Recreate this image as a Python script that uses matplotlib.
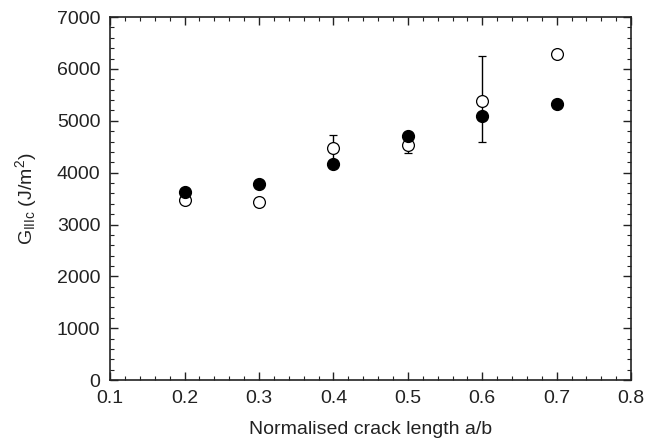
import matplotlib
matplotlib.use('Agg')
import matplotlib.pyplot as plt
from matplotlib.ticker import MultipleLocator

plt.rcParams['font.family'] = ['Liberation Sans', 'DejaVu Sans']
plt.rcParams['mathtext.fontset'] = 'custom'
plt.rcParams['mathtext.rm'] = 'Liberation Sans'
plt.rcParams['mathtext.it'] = 'Liberation Sans:italic'

# crack length ratio
crack_ratio = [0.2, 0.3, 0.4, 0.5, 0.6, 0.7]

# filled circles
g_filled = [3630, 3790, 4165, 4700, 5095, 5320]

# open circles with error bars
g_open = [3470, 3440, 4480, 4530, 5380, 6295]
err_low = [60, 80, 230, 160, 790, 20]
err_high = [60, 80, 240, 160, 870, 20]

fig = plt.figure(figsize=(6.48, 4.42), dpi=100)
ax = fig.add_axes([0.17, 0.14, 0.804, 0.8215])

ax.errorbar(crack_ratio, g_open, yerr=[err_low, err_high], fmt='o',
            mfc='white', mec='black', ecolor='black', mew=0.9,
            ms=8.5, elinewidth=1, capsize=3, capthick=1, zorder=2)
ax.plot(crack_ratio, g_filled, 'o', color='black', ms=8.5, zorder=3)

ax.set_xlim(0.1, 0.8)
ax.set_ylim(0, 7000)
ax.xaxis.set_major_locator(MultipleLocator(0.1))
ax.xaxis.set_minor_locator(MultipleLocator(0.02))
ax.yaxis.set_major_locator(MultipleLocator(1000))
ax.yaxis.set_minor_locator(MultipleLocator(200))
ax.tick_params(which='both', direction='in', top=True, right=True, labelsize=14,
               colors='#222222')
ax.tick_params(which='major', length=6, width=1, pad=7)
ax.tick_params(which='minor', length=3, width=0.8)
for s in ax.spines.values():
    s.set_linewidth(1.2)
    s.set_color('#222222')

ax.set_xlabel('Normalised crack length a/b', fontsize=14, color='#222222', labelpad=10)
ax.set_ylabel(r'G$_{\rm IIIc}$ (J/m$^2$)', fontsize=14, color='#222222', labelpad=13)

fig.savefig('out.png', dpi=100)
